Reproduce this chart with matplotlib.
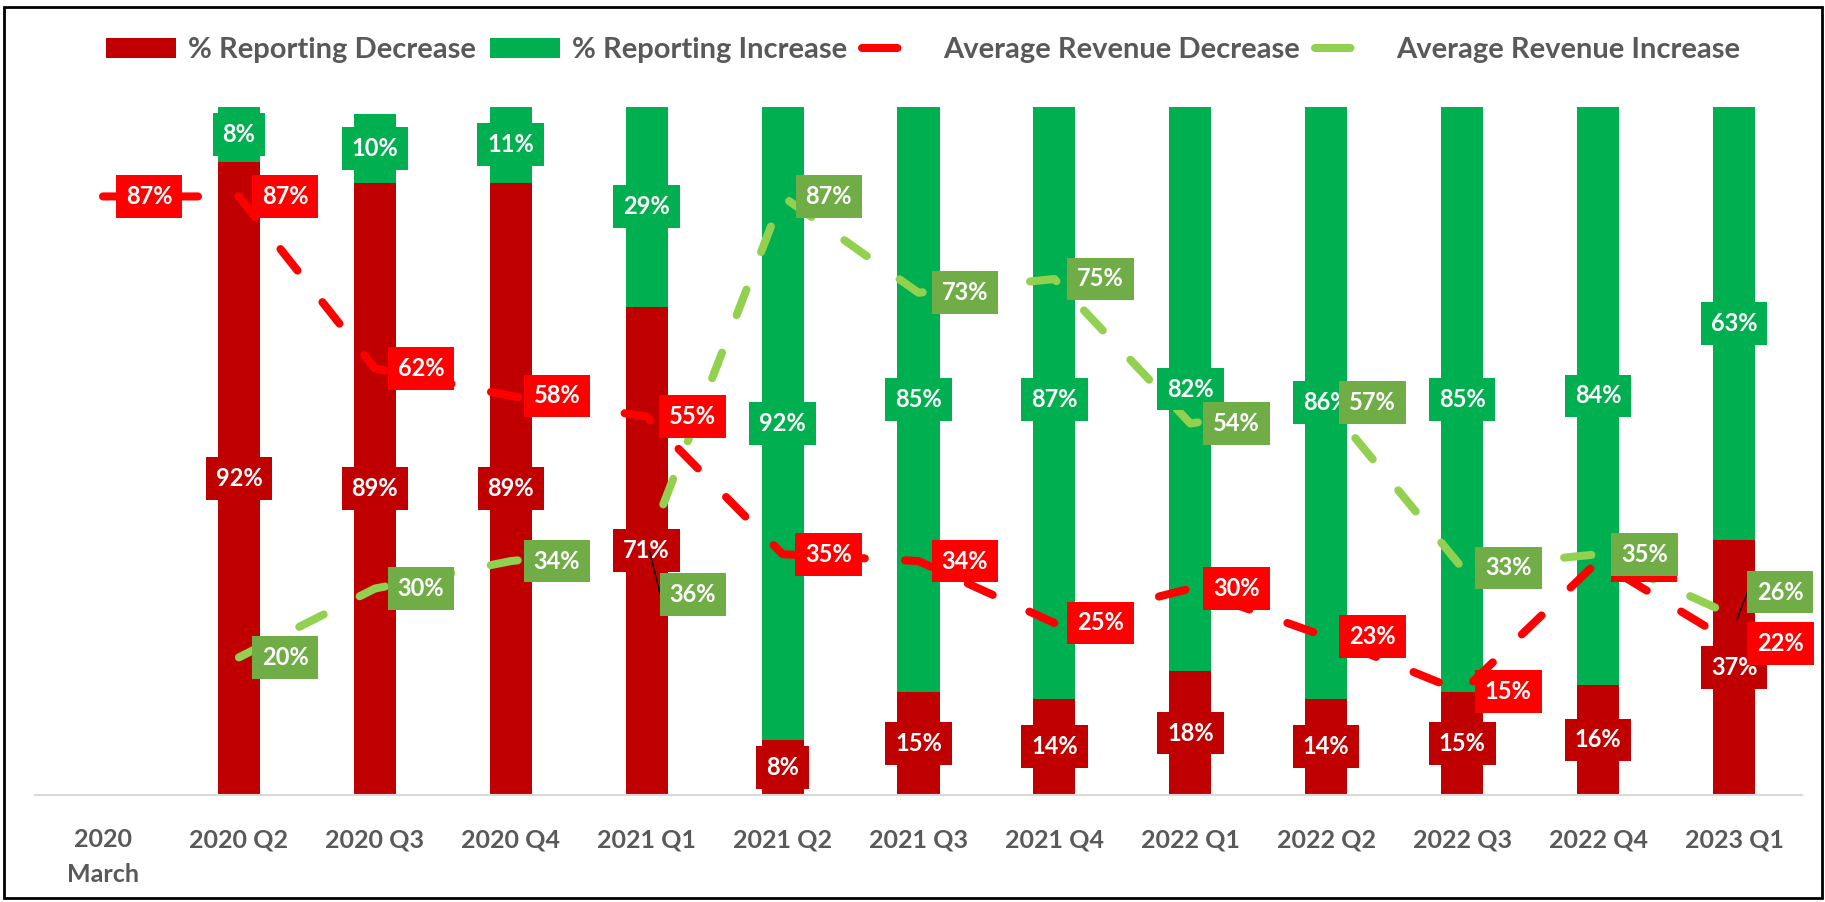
import numpy as np
import matplotlib
matplotlib.use("Agg")
import matplotlib.pyplot as plt
from matplotlib.patches import Patch, Rectangle
from matplotlib.lines import Line2D

plt.rcParams['font.family'] = ['Lato', 'DejaVu Sans']
plt.rcParams['font.weight'] = 'bold'

# data
categories = ['2020\nMarch', '2020 Q2', '2020 Q3', '2020 Q4', '2021 Q1', '2021 Q2',
              '2021 Q3', '2021 Q4', '2022 Q1', '2022 Q2', '2022 Q3', '2022 Q4', '2023 Q1']
pct_decrease = [np.nan, 92, 89, 89, 71, 8, 15, 14, 18, 14, 15, 16, 37]
pct_increase = [np.nan, 8, 10, 11, 29, 92, 85, 87, 82, 86, 85, 84, 63]
avg_rev_decrease = [87, 87, 62, 58, 55, 35, 34, 25, 30, 23, 15, 34, 22]
avg_rev_increase = [np.nan, 20, 30, 34, 36, 87, 73, 75, 54, 57, 33, 35, 26]

DARK_RED = '#C00000'
GREEN = '#00B050'
RED = '#FF0000'
LIGHT_GREEN = '#92D050'
LABEL_GREEN = '#70AD47'
GREY = '#595959'

W, H = 1825, 902
fig = plt.figure(figsize=(W / 100, H / 100), dpi=100)
ax = fig.add_axes([35 / W, 1 - 795 / H, (1802 - 35) / W, (795 - 107) / H])

x = np.arange(len(categories))
dec = np.array(pct_decrease, dtype=float)
inc = np.array(pct_increase, dtype=float)

ax.bar(x, dec, width=0.31, color=DARK_RED, zorder=2)
ax.bar(x, inc, width=0.31, bottom=dec, color=GREEN, zorder=2)

lw = 5.8
dash = (0, (3.4, 5.0))
ax.plot(x, avg_rev_decrease, color=RED, lw=lw, ls=dash, dash_capstyle='round',
        solid_capstyle='round', zorder=3)
ax.plot(x, avg_rev_increase, color=LIGHT_GREEN, lw=lw, ls=dash, dash_capstyle='round',
        solid_capstyle='round', zorder=3)


def box_label(xp, yp, val, fc, z):
    ax.text(xp, yp, f'{val:.0f}%', ha='center', va='center', color='white',
            fontsize=17, fontweight='bold', zorder=z,
            bbox=dict(boxstyle='square,pad=0.42', fc=fc, ec='none'))


# bar segment labels
for i in x:
    if np.isnan(dec[i]):
        continue
    box_label(i, dec[i] / 2, dec[i], DARK_RED, 4)
    box_label(i, dec[i] + inc[i] / 2, inc[i], GREEN, 4)

# line labels, set to the right of each point
dx = 0.34
for i, v in enumerate(avg_rev_decrease):
    box_label(i + dx, v, v, RED, 5)

moved = {4: 29.2, 12: 29.5}
for i, v in enumerate(avg_rev_increase):
    if np.isnan(v):
        continue
    y = moved.get(i, v)
    box_label(i + dx, y, v, LABEL_GREEN, 6)
    if i in moved:
        ax.plot([i + 0.02, i + 0.1, i + 0.19], [v - 0.5, y, y], color='black',
                lw=1, zorder=5.5)

ax.set_xlim(-0.5, len(categories) - 0.5)
ax.set_ylim(0, 100)
ax.set_yticks([])
ax.set_xticks(x)
ax.set_xticklabels(categories, fontsize=18, fontweight='bold', color=GREY,
                   linespacing=1.6)
ax.tick_params(axis='x', length=0, pad=24)
for s in ['top', 'right', 'left']:
    ax.spines[s].set_visible(False)
ax.spines['bottom'].set_color('#D9D9D9')
ax.spines['bottom'].set_linewidth(1.5)

leg_dash = (0, (4.4, 20))
handles = [
    Patch(fc=DARK_RED, label='% Reporting Decrease'),
    Patch(fc=GREEN, label='% Reporting Increase'),
    Line2D([], [], color=RED, lw=lw, ls=leg_dash, dash_capstyle='round',
           label='Average Revenue Decrease'),
    Line2D([], [], color=LIGHT_GREEN, lw=lw, ls=leg_dash, dash_capstyle='round',
           label='Average Revenue Increase'),
]
leg = fig.legend(handles=handles, loc='center', bbox_to_anchor=(0.506, 1 - 50 / H),
                 ncol=4, frameon=False, fontsize=21, handlelength=2.4,
                 handletextpad=0.4, columnspacing=0.5)
for t in leg.get_texts():
    t.set_color(GREY)
    t.set_fontweight('bold')

# outer frame
fig.add_artist(Rectangle((4 / W, 1 - 898 / H), (1822 - 4) / W, (898 - 7) / H,
                         transform=fig.transFigure, fill=False, ec='black', lw=2))

fig.savefig('out.png', dpi=100)
